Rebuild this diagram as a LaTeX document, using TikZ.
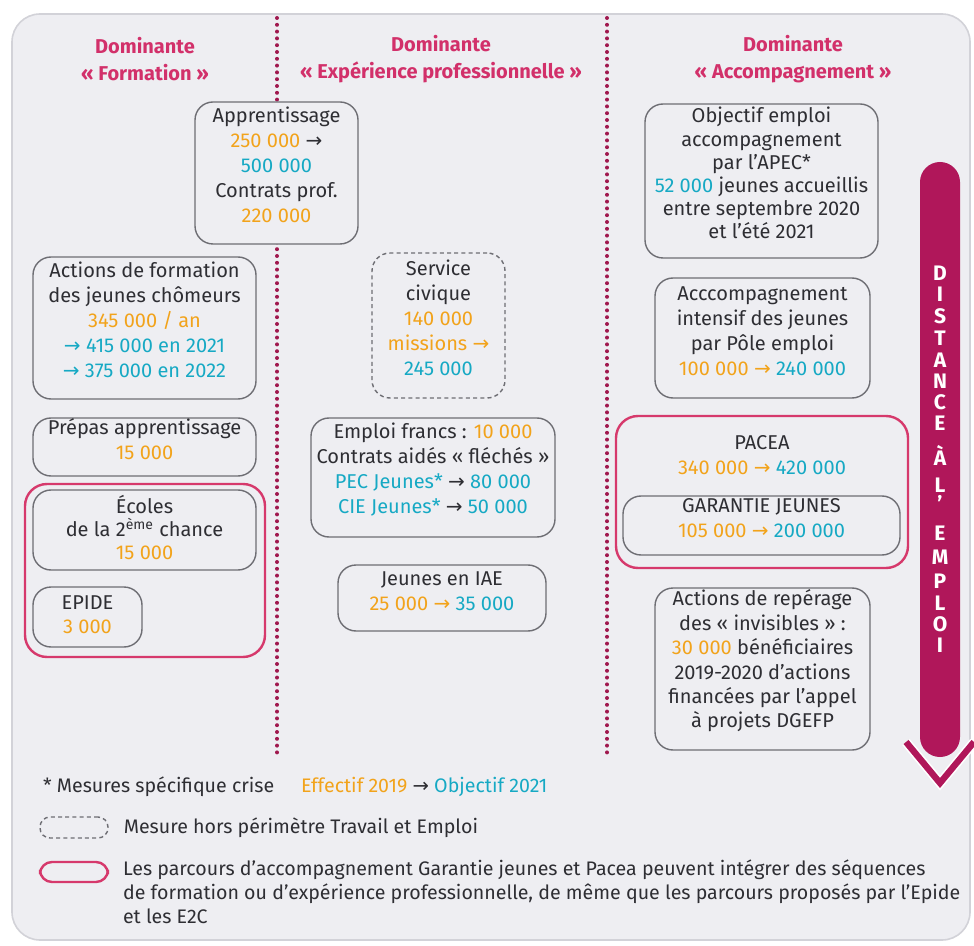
\documentclass[tikz,border=0pt]{standalone}
\usepackage{fontspec}
\setmainfont{Fira Sans}
\newfontfamily\flechefont{DejaVu Sans}
\usetikzlibrary{positioning,fit}

\definecolor{fond}{HTML}{EEEEF2}
\definecolor{cadregris}{HTML}{D2D2D8}
\definecolor{contour}{HTML}{6E6E74}
\definecolor{texte}{HTML}{2E2E33}
\definecolor{titre}{HTML}{D2306A}
\definecolor{rose}{HTML}{D6396C}
\definecolor{pointille}{HTML}{A0184E}
\definecolor{distance}{HTML}{B0175A}
\definecolor{effectif}{HTML}{F2A31B}
\definecolor{objectif}{HTML}{16A9C4}

\newcommand{\eff}[1]{\textcolor{effectif}{#1}}
\newcommand{\obj}[1]{\textcolor{objectif}{#1}}
\newcommand{\fl}{{\flechefont →}}

\begin{document}
\begin{tikzpicture}[x=0.5pt,y=-0.5pt,
	every node/.style={font=\fontsize{10}{12.5}\selectfont,text=texte},
	mesure/.style={draw=contour,line width=0.7pt,rounded corners=9pt,fill=fond,inner sep=0pt,align=center},
	horsperimetre/.style={mesure,dash pattern=on 2pt off 1.6pt},
	parcours/.style={draw=rose,line width=1.2pt,rounded corners=11pt,inner sep=0pt},
	dominante/.style={align=center,text=titre,font=\bfseries\fontsize{10}{13.5}\selectfont},
	colonne/.style={draw=pointille,line width=2pt,line cap=round,dash pattern=on 0pt off 3.4pt},
	lettre/.style={text=white,font=\bfseries\fontsize{10.5}{10.5}\selectfont,inner sep=0pt},
	legende/.style={align=left,font=\fontsize{9.8}{12}\selectfont}]

\fill[white] (0,0) rectangle (974,946);
\useasboundingbox (0,0) rectangle (974,946);
\node (cadre) [fit={(12,14) (970,940)},fill=fond,draw=cadregris,line width=0.8pt,rounded corners=14pt,inner sep=0pt] {};

\coordinate (colAhaut) at (277,18);
\coordinate (colAbas) at (277,755);
\coordinate (colBhaut) at (607,18);
\coordinate (colBbas) at (607,755);
\draw[colonne] (colAhaut) -- (colAbas);
\draw[colonne] (colBhaut) -- (colBbas);

\node (domformation) [dominante] at (145,59) {Dominante\\« Formation »};
\node (domexperience) [dominante] at (441,59) {Dominante\\« Expérience professionnelle »};
\node (domaccomp) [dominante] at (793,59) {Dominante\\« Accompagnement »};

\node (apprentissage) [mesure,fit={(195,102) (358,244)}] {Apprentissage\\\eff{250 000} \fl\\\obj{500 000}\\Contrats prof.\\\eff{220 000}};
\node (actions) [mesure,fit={(33,257) (256,399)}] {Actions de formation\\des jeunes chômeurs\\\eff{345 000 / an}\\\obj{\fl{} 415 000 en 2021}\\\obj{\fl{} 375 000 en 2022}};
\node (prepas) [mesure,fit={(33,418) (256,476)}] {Prépas apprentissage\\\eff{15 000}};
\node (grpformation) [parcours,fit={(25,484) (265,657)}] {};
\node (e2c) [mesure,fit={(33,490) (256,570)},font=\fontsize{10}{11.6}\selectfont] {\\[-5pt]Écoles\\de la 2\textsuperscript{ème} chance\\\eff{15 000}};
\node (epide) [mesure,fit={(33,587) (142,647)},font=\fontsize{10}{11.6}\selectfont] {\\[-7pt]EPIDE\\\eff{3 000}};

\node (civique) [horsperimetre,fit={(372,253) (505,398)}] {Service\\civique\\\eff{140 000}\\\eff{missions \fl}\\\obj{245 000}};
\node (francs) [mesure,fit={(311,418) (555,537)}] {Emploi francs : \eff{10 000}\\Contrats aidés « fléchés »\\\obj{PEC Jeunes*} \fl{} \obj{80 000}\\\obj{CIE Jeunes*} \fl{} \obj{50 000}};
\node (iae) [mesure,fit={(338,565) (546,631)}] {Jeunes en IAE\\\eff{25 000 \fl} \obj{35 000}};

\node (apec) [mesure,fit={(645,104) (878,258)},font=\fontsize{10}{11.6}\selectfont] {Objectif emploi\\accompagnement\\par l’APEC*\\\obj{52 000} jeunes accueillis\\entre septembre 2020\\et l’été 2021};
\node (poleemploi) [mesure,fit={(655,278) (870,398)}] {Acccompagnement\\intensif des jeunes\\par Pôle emploi\\\eff{100 000 \fl} \obj{240 000}};
\node (grpaccomp) [parcours,fit={(616,416) (908,568)}] {};
\node (pacea) [align=center] at (762,455) {PACEA\\\eff{340 000 \fl} \obj{420 000}};
\node (garantie) [mesure,fit={(623,496) (900,555)}] {GARANTIE JEUNES\\\eff{105 000 \fl} \obj{200 000}};
\node (invisibles) [mesure,fit={(655,588) (870,750)},font=\fontsize{10}{12.2}\selectfont] {Actions de repérage\\des « invisibles » :\\\eff{30 000} bénéficiaires\\2019-2020 d’actions\\financées par l’appel\\à projets DGEFP};

\node (barre) [fit={(920,162) (960,757)},fill=distance,rounded corners=10pt,inner sep=0pt] {};
\coordinate (chevG) at (906,742);
\coordinate (pointe) at (940,783);
\coordinate (chevD) at (974,742);
\draw[draw=white,double=distance,double distance=3.2pt,line width=0.8pt] (chevG) -- (pointe) -- (chevD);
\foreach[count=\c] \l/\y in {D/273,I/294,S/316,T/338,A/360,N/381,C/402,E/423,À/455,L/485,’/503,E/533,M/557,P/581,L/603,O/624,I/645}{
	\node (lettre\c) [lettre] at (940,\y) {\l};
}

\node (crise) [legende,anchor=west] at (36,787) {* Mesures spécifique crise};
\node (couleurs) [legende,anchor=west] at (294,787) {\eff{Effectif 2019} \fl{} \obj{Objectif 2021}};
\node (legpointille) [horsperimetre,fit={(40,817) (108,838)},rounded corners=5pt] {};
\node (horste) [legende,right=4pt of legpointille] {Mesure hors périmètre Travail et Emploi};
\node (legparcours) [parcours,fit={(40,862) (108,882)},rounded corners=6pt] {};
\node (noteparcours) [legende,anchor=west] at (116,892) {Les parcours d’accompagnement Garantie jeunes et Pacea peuvent intégrer des séquences\\de formation ou d’expérience professionnelle, de même que les parcours proposés par l’Epide\\et les E2C};

\end{tikzpicture}
\end{document}
